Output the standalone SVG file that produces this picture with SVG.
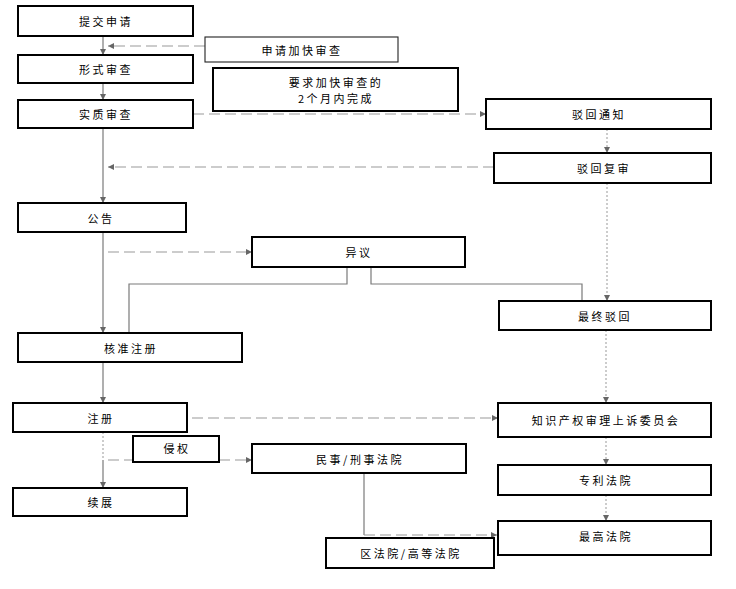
<svg xmlns="http://www.w3.org/2000/svg" width="736" height="589" viewBox="0 0 736 589">
<style>
.b{fill:#fff;stroke:#000;stroke-width:2}
.t{fill:#fff;stroke:#222;stroke-width:1.1}
text{font-family:"Noto Sans CJK SC","Liberation Sans",sans-serif;font-size:11px;fill:#000;text-anchor:middle;dominant-baseline:central;letter-spacing:2.5px}
.s{fill:none;stroke:#7a7a7a;stroke-width:1.2}
.d{fill:none;stroke:#999;stroke-width:1;stroke-dasharray:11 5}
.v{fill:none;stroke:#999;stroke-width:1;stroke-dasharray:2 2}
</style>
<defs>
<marker id="a" viewBox="0 0 10 10" refX="10" refY="5" markerWidth="6" markerHeight="6" orient="auto" markerUnits="userSpaceOnUse"><path d="M0,0 L10,5 L0,10 z" fill="#666"/></marker>
</defs>
<rect width="736" height="589" fill="#fff"/>
<g id="connectors">
<line class="s" x1="103" y1="36" x2="103" y2="55" marker-end="url(#a)"/>
<line class="s" x1="103" y1="83" x2="103" y2="100" marker-end="url(#a)"/>
<line class="s" x1="103" y1="128" x2="103" y2="203" marker-end="url(#a)"/>
<line class="s" x1="103" y1="232" x2="103" y2="333" marker-end="url(#a)"/>
<line class="s" x1="103" y1="362" x2="103" y2="403" marker-end="url(#a)"/>
<line class="v" x1="103" y1="432" x2="103" y2="460"/>
<line class="s" x1="103" y1="460" x2="103" y2="488" marker-end="url(#a)"/>
<line class="d" x1="205" y1="46" x2="108" y2="46" marker-end="url(#a)"/>
<line class="d" x1="193" y1="114" x2="486" y2="114" marker-end="url(#a)"/>
<line class="v" x1="607" y1="129" x2="607" y2="153" marker-end="url(#a)"/>
<line class="d" x1="494" y1="167" x2="108" y2="167" marker-end="url(#a)"/>
<line class="v" x1="607" y1="183" x2="607" y2="301" marker-end="url(#a)"/>
<line class="d" x1="108" y1="252" x2="252" y2="252" marker-end="url(#a)"/>
<polyline class="s" points="347,267 347,284 129,284 129,333"/>
<polyline class="s" points="371,267 371,284 582,284 582,301"/>
<line class="v" x1="606" y1="330" x2="606" y2="403" marker-end="url(#a)"/>
<line class="d" x1="192" y1="418" x2="498" y2="418" marker-end="url(#a)"/>
<line class="v" x1="606" y1="437" x2="606" y2="465" marker-end="url(#a)"/>
<line class="v" x1="606" y1="495" x2="606" y2="521" marker-end="url(#a)"/>
<line class="d" x1="108" y1="460" x2="133" y2="460"/>
<line class="d" x1="219" y1="460" x2="252" y2="460" marker-end="url(#a)"/>
<line class="s" x1="364" y1="473" x2="364" y2="535"/>
<line class="d" x1="364" y1="535" x2="497" y2="535" marker-end="url(#a)"/>
</g>
<g id="n1"><rect class="b" x="18" y="6" width="175" height="30"/><text x="106" y="21">提交申请</text></g>
<g id="n2"><rect class="t" x="205" y="37" width="193" height="25"/><text x="302" y="49.5">申请加快审查</text></g>
<g id="n3"><rect class="b" x="18" y="55" width="175" height="28"/><text x="106" y="69">形式审查</text></g>
<g id="n4"><rect class="b" x="213" y="68" width="245" height="43"/><text x="336" y="82">要求加快审查的</text><text x="336" y="98">2个月内完成</text></g>
<g id="n5"><rect class="b" x="18" y="100" width="175" height="28"/><text x="106" y="114">实质审查</text></g>
<g id="n6"><rect class="b" x="486" y="99" width="225" height="30"/><text x="599" y="114">驳回通知</text></g>
<g id="n7"><rect class="b" x="494" y="153" width="217" height="30"/><text x="604" y="168">驳回复审</text></g>
<g id="n8"><rect class="b" x="18" y="203" width="168" height="29"/><text x="101" y="217.5">公告</text></g>
<g id="n9"><rect class="b" x="252" y="237" width="213" height="30"/><text x="359" y="252">异议</text></g>
<g id="n10"><rect class="b" x="499" y="301" width="212" height="29"/><text x="605" y="315.5">最终驳回</text></g>
<g id="n11"><rect class="b" x="18" y="333" width="224" height="29"/><text x="131" y="347.5">核准注册</text></g>
<g id="n12"><rect class="b" x="13" y="403" width="174" height="29"/><text x="101" y="417.5">注册</text></g>
<g id="n13"><rect class="b" x="498" y="403" width="213" height="34"/><text x="606" y="420">知识产权审理上诉委员会</text></g>
<g id="n14"><rect class="b" x="133" y="436" width="86" height="26"/><text x="177" y="448">侵权</text></g>
<g id="n15"><rect class="b" x="252" y="444" width="214" height="29"/><text x="360" y="458.5">民事/刑事法院</text></g>
<g id="n16"><rect class="b" x="498" y="465" width="213" height="30"/><text x="606" y="480">专利法院</text></g>
<g id="n17"><rect class="b" x="13" y="488" width="174" height="28"/><text x="101" y="502">续展</text></g>
<g id="n18"><rect class="b" x="498" y="521" width="213" height="34"/><text x="606" y="536">最高法院</text></g>
<g id="n19"><rect class="b" x="326" y="538" width="168" height="30"/><text x="411" y="553">区法院/高等法院</text></g>
</svg>
